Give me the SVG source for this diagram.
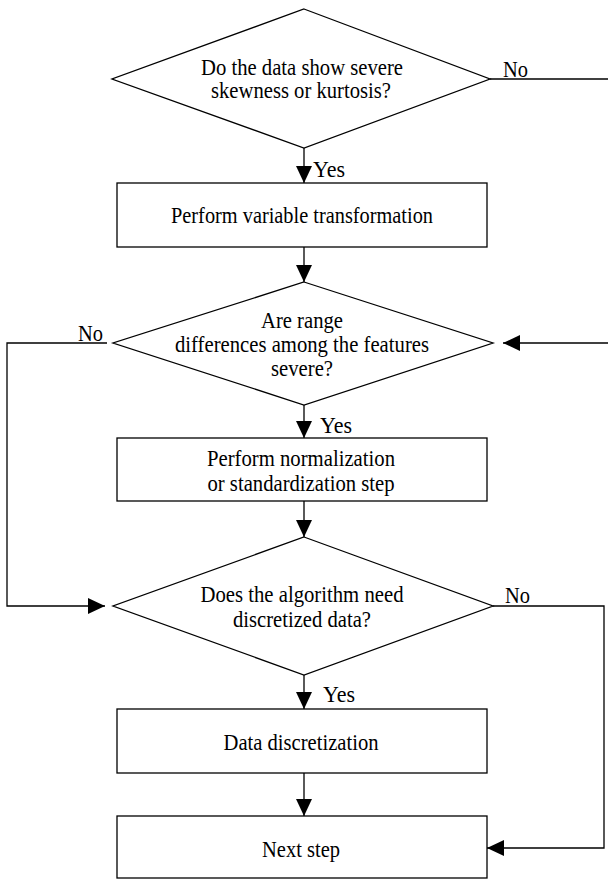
<svg xmlns="http://www.w3.org/2000/svg" width="608" height="879" viewBox="0 0 608 879">
  <style>
    .shape { fill: #fff; stroke: #000; stroke-width: 1.3; }
    .edge { fill: none; stroke: #000; stroke-width: 1.3; }
    text { font-family: "Liberation Serif", "Times New Roman", serif; font-size: 23px; fill: #000; }
    .c { text-anchor: middle; }
  </style>
  <defs>
    <marker id="arrow" viewBox="0 0 17 16" refX="17" refY="8" markerWidth="17" markerHeight="16" markerUnits="userSpaceOnUse" orient="auto">
      <path d="M0,0 L17,8 L0,16 Z" fill="#000"/>
    </marker>
  </defs>
  <rect width="608" height="879" fill="#fff"/>

  <!-- connectors -->
  <g id="connectors">
    <line class="edge" x1="304" y1="148" x2="304" y2="183" marker-end="url(#arrow)"/>
    <line class="edge" x1="304" y1="247" x2="304" y2="282" marker-end="url(#arrow)"/>
    <line class="edge" x1="304" y1="405" x2="304" y2="438" marker-end="url(#arrow)"/>
    <line class="edge" x1="304" y1="501" x2="304" y2="537" marker-end="url(#arrow)"/>
    <line class="edge" x1="304" y1="675" x2="304" y2="709" marker-end="url(#arrow)"/>
    <line class="edge" x1="304" y1="773" x2="304" y2="816" marker-end="url(#arrow)"/>
    <!-- skewness "No" branch leaves to the right and re-enters at the range test -->
    <line class="edge" x1="490" y1="79" x2="608" y2="79"/>
    <line class="edge" x1="608" y1="343" x2="503" y2="343" marker-end="url(#arrow)"/>
    <!-- range "No" branch -->
    <polyline class="edge" points="107,343 7,343 7,606 105,606" marker-end="url(#arrow)"/>
    <!-- discretization "No" branch -->
    <polyline class="edge" points="493,606 604,606 604,848 487,848" marker-end="url(#arrow)"/>
    <text x="503" y="77" textLength="25" lengthAdjust="spacingAndGlyphs">No</text>
    <text x="313" y="177" textLength="32" lengthAdjust="spacingAndGlyphs">Yes</text>
    <text x="78" y="341" textLength="25" lengthAdjust="spacingAndGlyphs">No</text>
    <text x="320" y="433" textLength="32" lengthAdjust="spacingAndGlyphs">Yes</text>
    <text x="505" y="603" textLength="25" lengthAdjust="spacingAndGlyphs">No</text>
    <text x="323" y="702" textLength="32" lengthAdjust="spacingAndGlyphs">Yes</text>
  </g>

  <g id="skew-test">
    <polygon class="shape" points="304,9 490,79 304,148 112,79"/>
    <text class="c" x="302" y="75" textLength="202" lengthAdjust="spacingAndGlyphs">Do the data show severe</text>
    <text class="c" x="301" y="98" textLength="180" lengthAdjust="spacingAndGlyphs">skewness or kurtosis?</text>
  </g>

  <g id="transform">
    <rect class="shape" x="117" y="183" width="370" height="64"/>
    <text class="c" x="302" y="223" textLength="262" lengthAdjust="spacingAndGlyphs">Perform variable transformation</text>
  </g>

  <g id="range-test">
    <polygon class="shape" points="304,282 493,343 304,405 113,343"/>
    <text class="c" x="302" y="328" textLength="82" lengthAdjust="spacingAndGlyphs">Are range</text>
    <text class="c" x="302" y="352" textLength="254" lengthAdjust="spacingAndGlyphs">differences among the features</text>
    <text class="c" x="302" y="376" textLength="62" lengthAdjust="spacingAndGlyphs">severe?</text>
  </g>

  <g id="normalize">
    <rect class="shape" x="117" y="438" width="370" height="63"/>
    <text class="c" x="301" y="466" textLength="188" lengthAdjust="spacingAndGlyphs">Perform normalization</text>
    <text class="c" x="301" y="491" textLength="187" lengthAdjust="spacingAndGlyphs">or standardization step</text>
  </g>

  <g id="discrete-test">
    <polygon class="shape" points="304,537 493,606 304,675 113,606"/>
    <text class="c" x="302" y="602" textLength="203" lengthAdjust="spacingAndGlyphs">Does the algorithm need</text>
    <text class="c" x="302" y="627" textLength="138" lengthAdjust="spacingAndGlyphs">discretized data?</text>
  </g>

  <g id="discretize">
    <rect class="shape" x="117" y="709" width="370" height="64"/>
    <text class="c" x="301" y="750" textLength="155" lengthAdjust="spacingAndGlyphs">Data discretization</text>
  </g>

  <g id="next-step">
    <rect class="shape" x="117" y="816" width="370" height="62"/>
    <text class="c" x="301" y="857" textLength="78" lengthAdjust="spacingAndGlyphs">Next step</text>
  </g>
</svg>
